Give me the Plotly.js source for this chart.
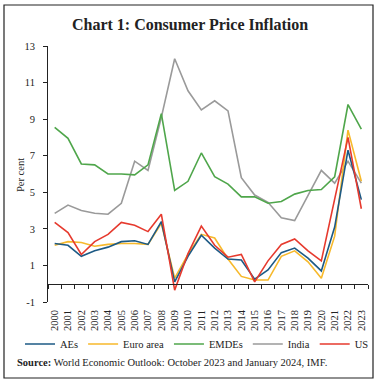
<!DOCTYPE html>
<html>
<head>
<meta charset="utf-8">
<script src="https://cdn.plot.ly/plotly-3.0.1.min.js"></script>
<style>
html,body{margin:0;padding:0;background:#fff;}
#chart{width:380px;height:385px;}
</style>
</head>
<body>
<div id="chart"></div>
<script>
const years = [2000,2001,2002,2003,2004,2005,2006,2007,2008,2009,2010,2011,2012,2013,2014,2015,2016,2017,2018,2019,2020,2021,2022,2023];
const aes = [2.2,2.1,1.5,1.8,2.0,2.3,2.35,2.15,3.4,0.1,1.5,2.65,1.95,1.35,1.3,0.25,0.75,1.7,1.95,1.4,0.7,3.1,7.3,4.6];
const euroArea = [2.1,2.3,2.25,2.05,2.15,2.2,2.2,2.15,3.3,0.3,1.6,2.7,2.5,1.35,0.4,0.2,0.2,1.5,1.8,1.2,0.3,2.6,8.4,5.6];
const emdes = [8.55,7.95,6.55,6.5,6.0,6.0,5.95,6.5,9.3,5.1,5.6,7.15,5.85,5.45,4.75,4.75,4.4,4.5,4.9,5.1,5.15,5.85,9.8,8.45];
const india = [3.85,4.3,4.0,3.85,3.8,4.4,6.7,6.2,9.1,12.3,10.55,9.5,10.0,9.45,5.8,4.85,4.45,3.6,3.45,4.8,6.2,5.5,6.7,5.5];
const us = [3.35,2.8,1.6,2.3,2.7,3.35,3.2,2.85,3.8,-0.35,1.65,3.15,2.1,1.45,1.6,0.1,1.25,2.15,2.45,1.8,1.25,4.7,8.0,4.1];
const yTickVals = [-1,1,3,5,7,9,11,13];
const yTickText = ['-1','1','3','5','7','9','11','13'];

const seriesNames = ['AEs','Euro area','EMDEs','India','US'];
const seriesData = [aes, euroArea, emdes, india, us];
const seriesColors = ['#1d5a85','#f7b92b','#4fa64b','#9a9a9a','#e63a2e'];
const drawOrder = [3,2,1,0,4];

const serif = 'Liberation Serif, Times New Roman, serif';

const traces = [];
for (const i of drawOrder) {
  traces.push({
    x: years, y: seriesData[i], type: 'scatter', mode: 'lines',
    name: seriesNames[i], legendrank: i + 1,
    line: {color: seriesColors[i], width: 1.6},
    xaxis: 'x', yaxis: 'y'
  });
}
traces.push({x: [years[0]], y: [null], xaxis: 'x2', yaxis: 'y', showlegend: false, hoverinfo: 'skip', type: 'scatter', mode: 'lines'});

const layout = {
  width: 380, height: 385,
  margin: {l: 48, r: 12, t: 46, b: 83},
  paper_bgcolor: '#fff', plot_bgcolor: '#fff',
  font: {family: serif, size: 10, color: '#222'},
  showlegend: true,
  title: {text: '<b>Chart 1: Consumer Price Inflation</b>', font: {family: serif, size: 16, color: '#222'}, x: 0.5, xanchor: 'center', y: 0.937, yanchor: 'middle'},
  xaxis: {
    range: [1999.5, 2023.5], tickmode: 'linear', tick0: 2000, dtick: 1,
    tickangle: -90, showline: false, ticks: '', showgrid: false, zeroline: false,
    ticklabelstandoff: 5,
    tickfont: {family: serif, size: 10.5, color: '#222'}, fixedrange: true
  },
  xaxis2: {
    overlaying: 'x', anchor: 'free', position: 1/14, side: 'bottom',
    range: [1999.5, 2023.5], tickmode: 'linear', tick0: 1999.5, dtick: 1,
    showline: true, linecolor: '#222', linewidth: 1, ticks: 'outside', ticklen: 4, tickcolor: '#222',
    showticklabels: false, showgrid: false, zeroline: false, fixedrange: true
  },
  yaxis: {
    range: [-1, 13], tickmode: 'array', tickvals: yTickVals, ticktext: yTickText,
    showline: true, linecolor: '#222', linewidth: 1, ticks: 'outside', ticklen: 4, tickcolor: '#222',
    showgrid: false, zeroline: false, ticklabelstandoff: 6,
    tickfont: {family: serif, size: 10.5, color: '#222'},
    fixedrange: true
  },
  legend: {
    orientation: 'h',
    x: (20 - 48) / 320, xanchor: 'left', y: (302 - 344) / 256, yanchor: 'middle',
    font: {family: serif, size: 10.5, color: '#222'}, tracegroupgap: 0,
    traceorder: 'normal', bgcolor: 'rgba(0,0,0,0)'
  },
  annotations: [{
    xref: 'paper', yref: 'paper', x: (15 - 48) / 320, y: (302 - 362) / 256, xanchor: 'left', yanchor: 'middle',
    text: '<b>Source:</b> World Economic Outlook: October 2023 and January 2024, IMF.',
    showarrow: false, font: {family: serif, size: 10.5, color: '#222'}
  }, {
    xref: 'paper', yref: 'paper', x: (20 - 48) / 320, y: (302 - 175) / 256, xanchor: 'center', yanchor: 'middle',
    text: 'Per cent', textangle: -90,
    showarrow: false, font: {family: serif, size: 10.5, color: '#222'}
  }],
  shapes: [{
    type: 'rect', xref: 'paper', yref: 'paper',
    x0: (4 - 48) / 320, x1: (373 - 48) / 320,
    y0: (302 - 378) / 256, y1: (302 - 5) / 256,
    line: {color: '#222', width: 1.2}, fillcolor: 'rgba(0,0,0,0)', layer: 'above'
  }]
};

Plotly.newPlot('chart', traces, layout, {displayModeBar: false, staticPlot: true});
</script>
</body>
</html>
